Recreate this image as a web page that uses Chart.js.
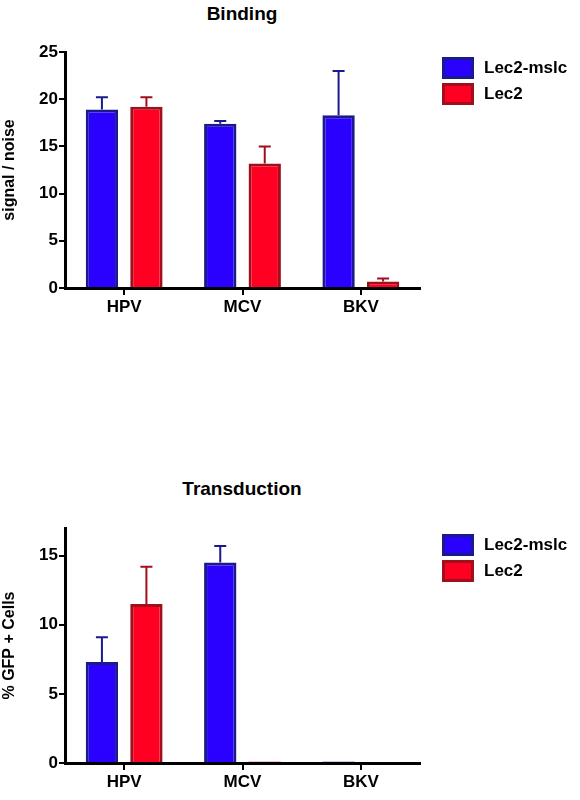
<!DOCTYPE html>
<html>
<head>
<meta charset="utf-8">
<script src="https://cdn.jsdelivr.net/npm/chart.js@4"></script>
<style>
  body { margin: 0; width: 580px; height: 800px; background: #fff; position: relative; font-family: "Liberation Sans", Arial, sans-serif; }
  .box { position: absolute; left: 0; width: 580px; height: 320px; }
  .title { position: absolute; font-weight: bold; font-size: 19px; width: 240px; text-align: center; }
  .leg { position: absolute; left: 442px; font-weight: bold; font-size: 17px; }
  .leg div { display: flex; align-items: center; height: 26px; }
  .leg span { display: inline-block; width: 26px; height: 16px; margin-right: 10px; border: 3px solid; }
</style>
</head>
<body>
<div class="title" style="left:122px;top:3px">Binding</div>
<div class="box" style="top:0"><canvas id="c1" width="580" height="320"></canvas></div>
<div class="leg" style="top:55px">
  <div><span style="background:#2a00ff;border-color:#1a1a8c"></span>Lec2-mslc</div>
  <div><span style="background:#ff0022;border-color:#a0101c"></span>Lec2</div>
</div>
<div class="title" style="left:122px;top:478px">Transduction</div>
<div class="box" style="top:480px"><canvas id="c2" width="580" height="320"></canvas></div>
<div class="leg" style="top:532px">
  <div><span style="background:#2a00ff;border-color:#1a1a8c"></span>Lec2-mslc</div>
  <div><span style="background:#ff0022;border-color:#a0101c"></span>Lec2</div>
</div>
<script>
const categories = ['HPV', 'MCV', 'BKV'];
const bindMslc = [18.9, 17.4, 18.3];
const bindMslcErr = [20.2, 17.7, 23.0];
const bindLec2 = [19.2, 13.2, 0.7];
const bindLec2Err = [20.2, 15.0, 1.0];
const transMslc = [7.3, 14.5, 0.1];
const transMslcErr = [9.1, 15.7, 0.15];
const transLec2 = [11.5, 0.1, 0.05];
const transLec2Err = [14.2, 0.1, 0.05];

const errColors = ['#1a1a8c', '#a0101c'];

const errorBars = {
  id: 'errorBars',
  afterDatasetsDraw(chart) {
    const ctx = chart.ctx, y = chart.scales.y;
    chart.data.datasets.forEach((ds, i) => {
      chart.getDatasetMeta(i).data.forEach((bar, j) => {
        const top = y.getPixelForValue(ds.err[j]);
        if (top >= bar.y - 1) return;
        ctx.save();
        ctx.strokeStyle = errColors[i];
        ctx.lineWidth = 2;
        ctx.beginPath();
        ctx.moveTo(bar.x, bar.y);
        ctx.lineTo(bar.x, top);
        ctx.moveTo(bar.x - 6, top);
        ctx.lineTo(bar.x + 6, top);
        ctx.stroke();
        ctx.restore();
      });
    });
  }
};

function makeChart(id, a, aErr, b, bErr, max, step, yTitle, padTop, xHeight) {
  return new Chart(document.getElementById(id), {
    type: 'bar',
    data: {
      labels: categories,
      datasets: [
        { label: 'Lec2-mslc', data: a, err: aErr, backgroundColor: '#2a00ff', borderColor: '#1a1a8c', borderWidth: 3 },
        { label: 'Lec2', data: b, err: bErr, backgroundColor: '#ff0022', borderColor: '#a0101c', borderWidth: 3 }
      ]
    },
    options: {
      responsive: false,
      animation: false,
      categoryPercentage: 0.752,
      barPercentage: 0.727,
      layout: { padding: { top: padTop, right: 160, left: 0, bottom: 0 } },
      plugins: { legend: { display: false }, tooltip: { enabled: false } },
      scales: {
        x: {
          afterFit: s => { s.height = xHeight; },
          border: { color: '#000', width: 3 },
          grid: { offset: false, drawOnChartArea: false, color: '#000', lineWidth: 2, tickLength: 7 },
          ticks: { color: '#000', font: { size: 17, weight: 'bold', family: 'Liberation Sans' }, padding: 2 }
        },
        y: {
          min: 0, max: max,
          afterFit: s => { s.width = 65; },
          afterBuildTicks: s => { s.ticks = s.ticks.filter(t => t.value % step === 0); },
          border: { color: '#000', width: 3 },
          grid: { drawOnChartArea: false, color: '#000', lineWidth: 2, tickLength: 6 },
          ticks: { stepSize: step, color: '#000', font: { size: 17, weight: 'bold', family: 'Liberation Sans' }, padding: 1 },
          title: { display: true, text: yTitle, color: '#000', font: { size: 16, weight: 'bold', family: 'Liberation Sans' }, padding: 0 }
        }
      }
    },
    plugins: [errorBars]
  });
}

makeChart('c1', bindMslc, bindMslcErr, bindLec2, bindLec2Err, 25, 5, 'signal / noise', 52, 32);
makeChart('c2', transMslc, transMslcErr, transLec2, transLec2Err, 17, 5, '% GFP + Cells', 48, 37);
</script>
</body>
</html>
